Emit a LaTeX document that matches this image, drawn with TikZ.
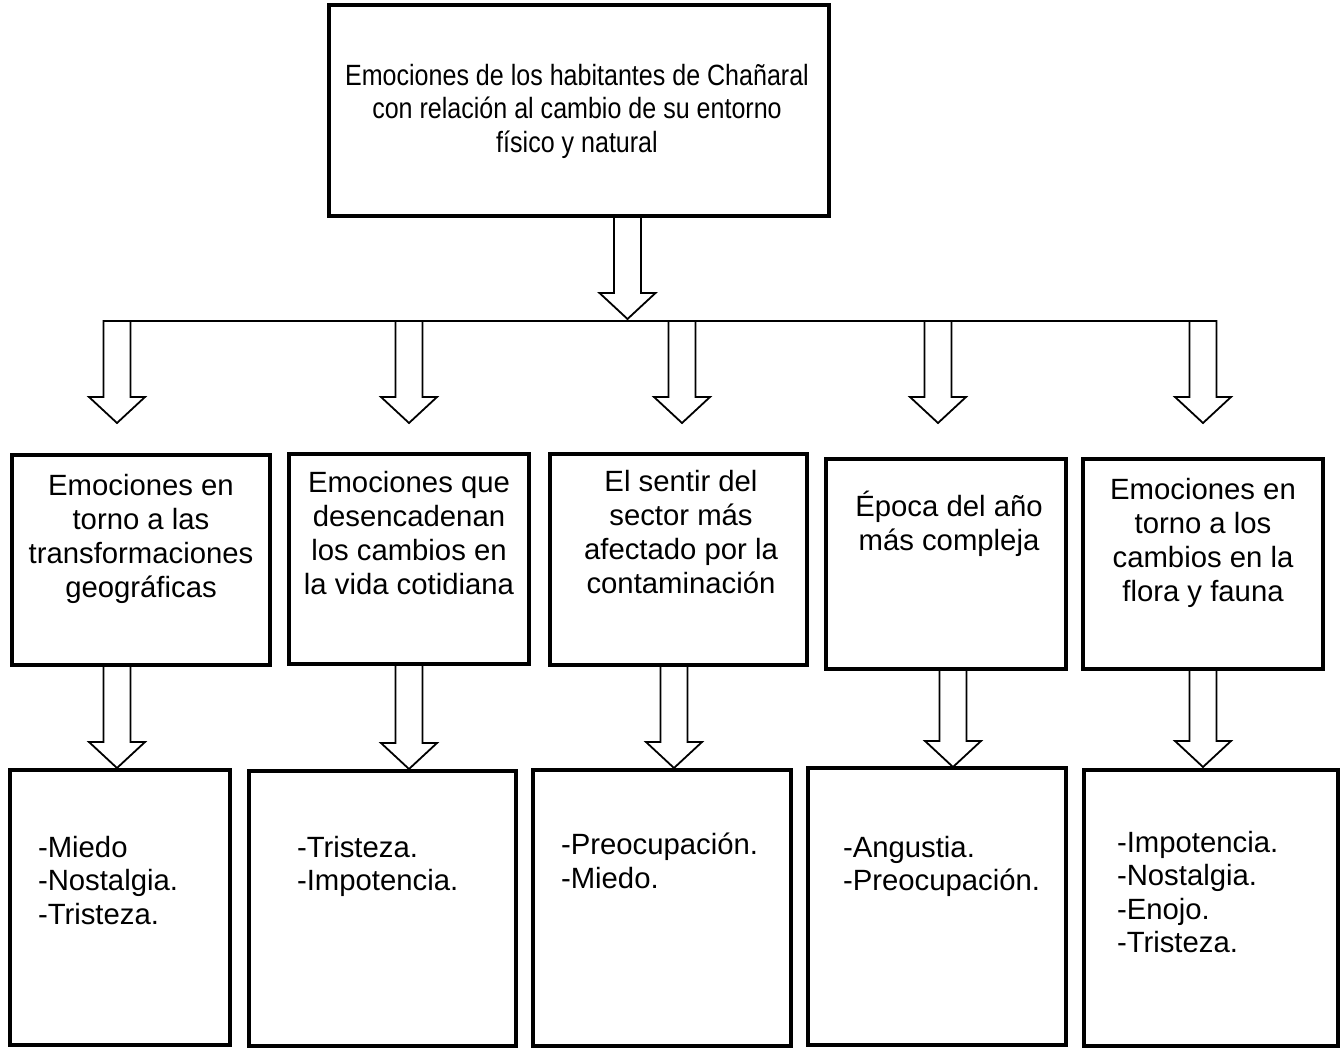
\documentclass[tikz,border=0pt]{standalone}
\usepackage{fontspec}
\setmainfont{Liberation Sans}
\newfontfamily\condfont[FakeStretch=0.855]{Liberation Sans}
\begin{document}
\begin{tikzpicture}[x=1pt,y=-1pt,
  box/.style={draw, line width=3.5pt, inner sep=0pt, outer sep=0pt},
  txt/.style={inner sep=0pt, outer sep=0pt, align=center, anchor=north, font=\fontsize{29.3}{34}\selectfont},
  lst/.style={inner sep=0pt, outer sep=0pt, align=left, anchor=north west, font=\fontsize{29.3}{33.5}\selectfont},
  arrowline/.style={draw, line width=1.8pt, line join=miter},
  barline/.style={draw, line width=2pt},
  pics/blockarr/.style={code={\draw[arrowline] (-13.5,0) -- (-13.5,#1) -- (-28,#1) -- (0,#1+26) -- (28,#1) -- (13.5,#1) -- (13.5,0) -- cycle;}}
]
\useasboundingbox (0,0) rectangle (1344,1051);

% top box
\node[box, minimum width=500pt, minimum height=211pt] (top) at (579,110.5) {};
\node[txt, font=\condfont\fontsize{29.3}{33.5}\selectfont] (ttop) at (577,64) {Emociones de los habitantes de Chañaral\\con relación al cambio de su entorno\\físico y natural};

% middle boxes
\node[box, minimum width=258pt, minimum height=210pt] (b1) at (141,560) {};
\node[box, minimum width=240pt, minimum height=210pt] (b2) at (409,559) {};
\node[box, minimum width=257pt, minimum height=211pt] (b3) at (678.5,559.5) {};
\node[box, minimum width=240pt, minimum height=210pt] (b4) at (946,564) {};
\node[box, minimum width=240pt, minimum height=210pt] (b5) at (1203,564) {};

\node[txt] (t1) at (141,474) {Emociones en\\torno a las\\transformaciones\\geográficas};
\node[txt] (t2) at (409,471) {Emociones que\\desencadenan\\los cambios en\\la vida cotidiana};
\node[txt] (t3) at (681,470) {El sentir del\\sector más\\afectado por la\\contaminación};
\node[txt] (t4) at (949,491) {Época del año\\más compleja};
\node[txt] (t5) at (1203,478) {Emociones en\\torno a los\\cambios en la\\flora y fauna};

% bottom boxes
\node[box, minimum width=220pt, minimum height=275pt] (d1) at (120,907.5) {};
\node[box, minimum width=267pt, minimum height=275pt] (d2) at (382.5,908.5) {};
\node[box, minimum width=258pt, minimum height=276pt] (d3) at (662,908) {};
\node[box, minimum width=258pt, minimum height=277pt] (d4) at (937,906.5) {};
\node[box, minimum width=254pt, minimum height=276pt] (d5) at (1211,908) {};

\node[lst] (l1) at (38,836) {-Miedo\\-Nostalgia.\\-Tristeza.};
\node[lst] (l2) at (297,836) {-Tristeza.\\-Impotencia.};
\node[lst] (l3) at (561,833) {-Preocupación.\\-Miedo.};
\node[lst] (l4) at (843,836) {-Angustia.\\-Preocupación.};
\node[lst] (l5) at (1117,831) {-Impotencia.\\-Nostalgia.\\-Enojo.\\-Tristeza.};

% main arrow from top box
\path (top.south) ++(48.5,0) coordinate (m0);
\pic at (m0) {blockarr=77};

% bar and top row arrows
\coordinate (a1) at (117,321);
\coordinate (a2) at (409,321);
\coordinate (a3) at (682,321);
\coordinate (a4) at (938,321);
\coordinate (a5) at (1203,321);
\coordinate (barL) at (103.5,321);
\coordinate (barR) at (1216.5,321);
\draw[barline] (barL) -- (barR);
\pic at (a1) {blockarr=76};
\pic at (a2) {blockarr=76};
\pic at (a3) {blockarr=76};
\pic at (a4) {blockarr=76};
\pic at (a5) {blockarr=76};

% lower arrows
\path (b1.south) ++(-24,0) coordinate (c1);
\path (b2.south) coordinate (c2);
\path (b3.south) ++(-4.5,0) coordinate (c3);
\path (b4.south) ++(7,0) coordinate (c4);
\path (b5.south) coordinate (c5);
\pic at (c1) {blockarr=77};
\pic at (c2) {blockarr=79};
\pic at (c3) {blockarr=77};
\pic at (c4) {blockarr=72};
\pic at (c5) {blockarr=72};
\end{tikzpicture}
\end{document}
